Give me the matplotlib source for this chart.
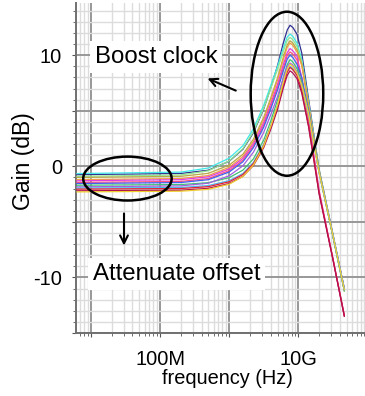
import matplotlib
matplotlib.use("Agg")
import matplotlib.pyplot as plt
from matplotlib.patches import Ellipse
from matplotlib.ticker import FixedLocator, LogLocator, NullFormatter

plt.rcParams['font.family'] = ['Liberation Sans', 'DejaVu Sans']

# ---- data ----
freq_hz = [6.3e6, 2.0e8, 5.0e8, 1.0e9, 1.58e9, 2.24e9, 3.16e9, 3.98e9, 5.01e9,
           6.03e9, 6.92e9, 7.59e9, 8.32e9, 9.55e9, 1.12e10, 1.41e10, 1.66e10,
           2.0e10, 3.16e10, 4.62e10]

curve_colors = ['#303090', '#40e8e8', '#90e890', '#b8a848', '#f0a040', '#e040e0',
                '#ff5080', '#4060f0', '#40c070', '#a060e0', '#50b8f0', '#e02030',
                '#b01050', '#f0d030']

gain_db = [
    [-0.75, -0.64, -0.35, 0.46, 1.54, 3.02, 5.17, 7.05, 9.07, 11.05, 12.28, 12.7, 12.5, 11.9, 10.2, 6.0, 3.0, -0.3, -6.1, -11.0],
    [-0.65, -0.52, -0.15, 0.73, 1.86, 3.37, 5.50, 7.26, 9.01, 10.6, 11.65, 11.9, 11.7, 11.1, 9.63, 5.7, 2.85, -0.37, -6.2, -11.1],
    [-0.9, -0.78, -0.4, 0.48, 1.6, 3.1, 5.23, 6.98, 8.73, 10.3, 11.35, 11.6, 11.4, 10.8, 9.42, 5.59, 2.75, -0.39, -6.2, -11.2],
    [-1.0, -0.9, -0.63, 0.11, 1.09, 2.44, 4.41, 6.13, 7.98, 9.77, 10.94, 11.3, 11.1, 10.5, 9.21, 5.47, 2.65, -0.4, -6.3, -11.2],
    [-1.2, -1.1, -0.83, -0.09, 0.89, 2.24, 4.21, 5.93, 7.78, 9.57, 10.74, 11.1, 10.9, 10.3, 9.07, 5.4, 2.6, -0.43, -6.2, -11.1],
    [-1.3, -1.2, -0.94, -0.23, 0.72, 2.03, 3.94, 5.6, 7.39, 9.11, 10.25, 10.6, 10.4, 9.9, 8.0, 4.2, 1.2, -2.2, -8.3, -13.4],
    [-1.45, -1.36, -1.1, -0.39, 0.55, 1.84, 3.72, 5.37, 7.13, 8.83, 9.97, 10.3, 10.1, 9.6, 7.79, 4.1, 1.1, -2.25, -8.3, -13.5],
    [-1.55, -1.46, -1.2, -0.51, 0.41, 1.68, 3.53, 5.15, 6.88, 8.55, 9.67, 10.0, 9.8, 9.2, 8.0, 4.98, 2.4, -0.52, -6.2, -11.0],
    [-1.7, -1.64, -1.47, -1.02, -0.34, 0.67, 2.37, 4.06, 5.98, 7.94, 9.17, 9.6, 9.4, 8.8, 7.6, 4.83, 2.3, -0.55, -6.3, -11.2],
    [-1.85, -1.76, -1.52, -0.85, 0.05, 1.27, 3.06, 4.62, 6.29, 7.89, 8.99, 9.3, 9.1, 8.5, 7.35, 4.71, 2.2, -0.58, -6.2, -11.1],
    [-1.95, -1.9, -1.73, -1.29, -0.64, 0.35, 1.99, 3.63, 5.5, 7.39, 8.6, 9.0, 8.8, 8.2, 7.1, 4.6, 2.15, -0.6, -6.2, -11.1],
    [-2.05, -2.0, -1.83, -1.39, -0.74, 0.25, 1.89, 3.53, 5.4, 7.29, 8.5, 8.9, 8.7, 8.2, 6.81, 3.6, 0.8, -2.45, -8.3, -13.4],
    [-2.2, -2.15, -1.98, -1.55, -0.9, 0.07, 1.69, 3.31, 5.14, 7.0, 8.2, 8.6, 8.4, 7.9, 6.6, 3.5, 0.7, -2.5, -8.4, -13.5],
    [-2.3, -2.24, -2.07, -1.61, -0.92, 0.12, 1.84, 3.57, 5.52, 7.52, 8.76, 9.2, 9.0, 8.4, 7.3, 4.68, 2.2, -0.58, -6.2, -11.1],
]

x_tick_pos = [1e7, 1e8, 1e9, 1e10]
x_tick_labels = ['', '100M', '', '10G']
y_tick_pos = [-15, -10, -5, 0, 5, 10]
y_tick_labels = ['', '-10', '', '0', '', '10']

# ---- figure ----
fig = plt.figure(figsize=(3.65, 3.96), dpi=100)
ax = fig.add_axes([76 / 365, 63 / 396, 289 / 365, 330 / 396])

for g, c in zip(gain_db, curve_colors):
    ax.plot(freq_hz, g, color=c, lw=0.9, zorder=3)

ax.set_xscale('log')
ax.set_xlim(6.1e6, 9.2e10)
ax.set_ylim(-15, 14.7)

ax.xaxis.set_major_locator(FixedLocator(x_tick_pos))
ax.set_xticklabels(x_tick_labels)
ax.xaxis.set_minor_locator(LogLocator(base=10, subs=range(2, 10), numticks=20))
ax.xaxis.set_minor_formatter(NullFormatter())
ax.set_yticks(y_tick_pos)
ax.set_yticklabels(y_tick_labels)
ax.yaxis.set_minor_locator(FixedLocator(range(-15, 15)))

ax.grid(which='major', color='#989898', lw=1.4, zorder=1)
ax.grid(which='minor', color='#dcdcdc', lw=1.0, zorder=0)
ax.set_axisbelow(True)

ax.tick_params(which='both', direction='out', color='#555555', labelsize=14.4)
ax.tick_params(axis='x', which='major', length=3, pad=9)
ax.tick_params(axis='x', which='minor', length=2)
ax.tick_params(axis='y', which='major', length=3, pad=7)
ax.tick_params(axis='y', which='minor', length=2)

for side in ['top', 'right']:
    ax.spines[side].set_visible(False)
for side in ['left', 'bottom']:
    ax.spines[side].set_color('#707070')
    ax.spines[side].set_linewidth(1.4)

ax.set_xlabel('frequency (Hz)', fontsize=14.4)
ax.xaxis.set_label_coords(0.5225, -0.108)
ax.set_ylabel('Gain (dB)', fontsize=16.5)
ax.yaxis.set_label_coords(-0.142, 0.52)

# ---- annotations ----
ax.add_patch(Ellipse((0.730, 0.725), 0.251, 0.497, transform=ax.transAxes,
                     fill=False, ec='black', lw=1.8, zorder=5))
ax.add_patch(Ellipse((0.178, 0.468), 0.306, 0.133, transform=ax.transAxes,
                     fill=False, ec='black', lw=1.8, zorder=5))

box = dict(boxstyle='square,pad=0.2', fc='white', ec='none')
ax.text(0.0657, 0.8173, 'Boost clock', transform=ax.transAxes, fontsize=17.3,
        va='baseline', ha='left', bbox=box, zorder=6)
ax.text(0.0588, 0.1606, 'Attenuate offset', transform=ax.transAxes, fontsize=17.3,
        va='baseline', ha='left', bbox=box, zorder=6)

arrow = dict(arrowstyle='->', color='black', lw=1.5, mutation_scale=14)
ax.annotate('', xy=(0.4464, 0.7748), xytext=(0.5616, 0.7312),
            xycoords='axes fraction', arrowprops=arrow, zorder=6)
ax.annotate('', xy=(0.1661, 0.2567), xytext=(0.1661, 0.3706),
            xycoords='axes fraction', arrowprops=arrow, zorder=6)

fig.savefig('out.png', dpi=100)
